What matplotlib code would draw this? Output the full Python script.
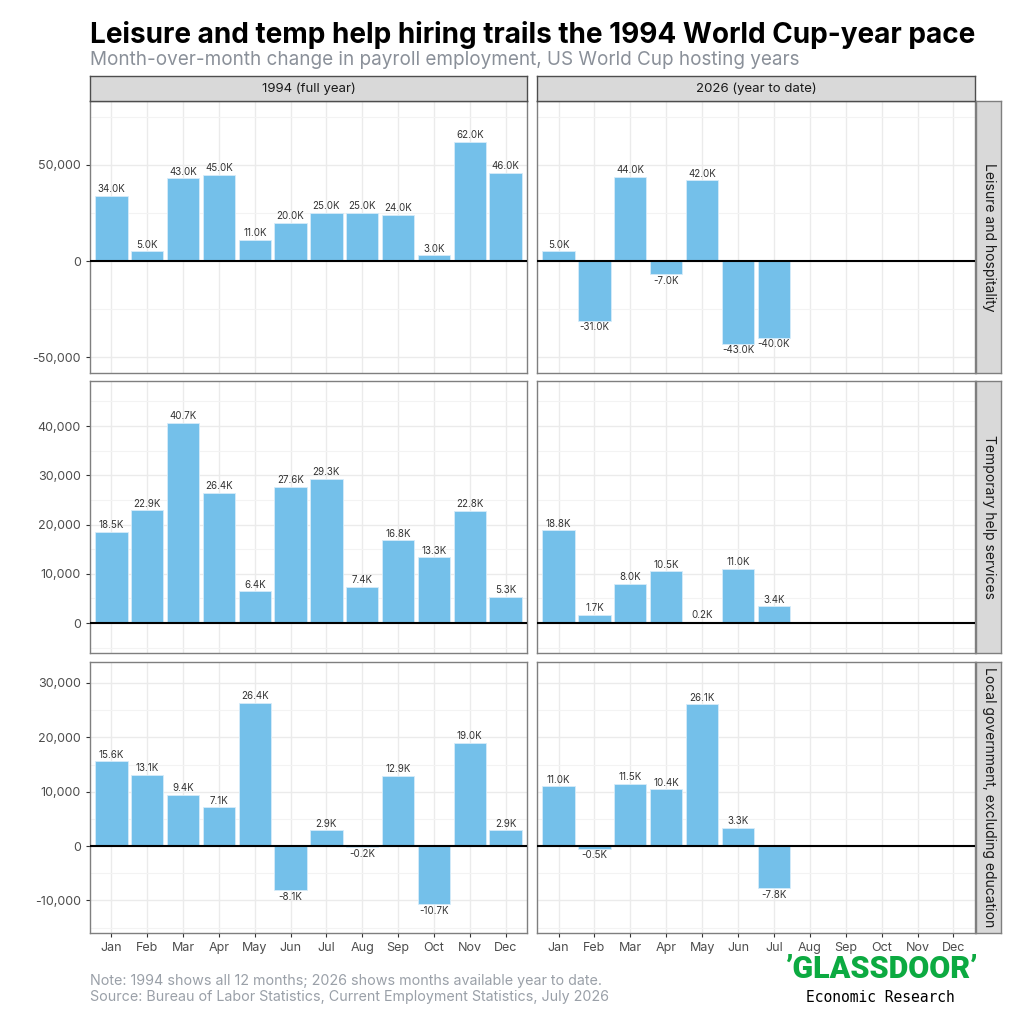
import matplotlib.pyplot as plt
from matplotlib.ticker import FuncFormatter, MultipleLocator
import numpy as np

plt.rcParams['font.family'] = ['Inter', 'DejaVu Sans']

months = ['Jan', 'Feb', 'Mar', 'Apr', 'May', 'Jun', 'Jul', 'Aug', 'Sep', 'Oct', 'Nov', 'Dec']
cols = ['1994 (full year)', '2026 (year to date)']
rows = ['Leisure and hospitality', 'Temporary help services',
        'Local government, excluding education']

# values in thousands of jobs
leisure_1994 = [34.0, 5.0, 43.0, 45.0, 11.0, 20.0, 25.0, 25.0, 24.0, 3.0, 62.0, 46.0]
leisure_2026 = [5.0, -31.0, 44.0, -7.0, 42.0, -43.0, -40.0]
temp_1994 = [18.5, 22.9, 40.7, 26.4, 6.4, 27.6, 29.3, 7.4, 16.8, 13.3, 22.8, 5.3]
temp_2026 = [18.8, 1.7, 8.0, 10.5, 0.2, 11.0, 3.4]
localgov_1994 = [15.6, 13.1, 9.4, 7.1, 26.4, -8.1, 2.9, -0.2, 12.9, -10.7, 19.0, 2.9]
localgov_2026 = [11.0, -0.5, 11.5, 10.4, 26.1, 3.3, -7.8]

data = [[leisure_1994, leisure_2026],
        [temp_1994, temp_2026],
        [localgov_1994, localgov_2026]]

ylims = [(-58333, 83333), (-6091, 49137), (-16012, 33865)]
ystep = [50000, 10000, 10000]

BAR = '#74c0ea'
GRID = '#ebebeb'
TXT = '#4d4d4d'

W = H = 1024
fig = plt.figure(figsize=(10.24, 10.24), dpi=100)

def px(x0, y0, x1, y1):
    return [x0 / W, 1 - y1 / H, (x1 - x0) / W, (y1 - y0) / H]

col_x = [(90, 527), (537, 975)]
row_y = [(101, 373), (381, 653), (662, 933)]

for r in range(3):
    for c in range(2):
        ax = fig.add_axes(px(col_x[c][0], row_y[r][0], col_x[c][1], row_y[r][1]))
        vals = np.array(data[r][c]) * 1000
        x = np.arange(1, len(vals) + 1)
        ax.bar(x, vals, width=0.9, color=BAR, edgecolor='#d6ecf9', linewidth=0.6, zorder=2)
        ax.axhline(0, color='black', lw=1.5, zorder=3)
        lo, hi = ylims[r]
        ax.set_xlim(0.4, 12.6)
        ax.set_ylim(lo, hi)
        off = (hi - lo) * 0.006
        for xi, v in zip(x, vals):
            lab = f'{v / 1000:.1f}K'
            if v >= 0:
                ax.text(xi, v + off, lab, ha='center', va='bottom', fontsize=7, color='#333333', zorder=4)
            else:
                ax.text(xi, v - off, lab, ha='center', va='top', fontsize=7, color='#333333', zorder=4)
        ax.set_xticks(range(1, 13))
        ax.yaxis.set_major_locator(MultipleLocator(ystep[r]))
        ax.yaxis.set_minor_locator(MultipleLocator(ystep[r] / 2))
        ax.yaxis.set_major_formatter(FuncFormatter(lambda v, p: f'{v:,.0f}'))
        ax.grid(True, which='major', color=GRID, lw=1.0, zorder=0)
        ax.grid(True, which='minor', axis='y', color='#f3f3f3', lw=0.8, zorder=0)
        ax.set_axisbelow(True)
        for s in ax.spines.values():
            s.set_color('#7f7f7f')
            s.set_linewidth(1.0)
        ax.tick_params(which='both', length=0)
        ax.tick_params(axis='both', which='major', length=3, color='#333333', labelsize=9, labelcolor=TXT)
        if r == 2:
            ax.set_xticklabels(months)
        else:
            ax.set_xticklabels([])
            ax.tick_params(axis='x', length=0)
        if c == 1:
            ax.set_yticklabels([])
            ax.tick_params(axis='y', length=0)

# column strips
for c in range(2):
    x0, x1 = col_x[c]
    sax = fig.add_axes(px(x0, 76, x1, 101))
    sax.set_xticks([]); sax.set_yticks([])
    sax.set_facecolor('#d9d9d9')
    for s in sax.spines.values():
        s.set_color('#4d4d4d'); s.set_linewidth(1.0)
    sax.text(0.5, 0.5, cols[c], ha='center', va='center', fontsize=9.5, color='#1a1a1a')

# row strips
for r in range(3):
    y0, y1 = row_y[r]
    sax = fig.add_axes(px(976, y0, 1001, y1))
    sax.set_xticks([]); sax.set_yticks([])
    sax.set_facecolor('#d9d9d9')
    for s in sax.spines.values():
        s.set_color('#7f7f7f'); s.set_linewidth(1.0)
    sax.text(0.5, 0.5, rows[r], ha='center', va='center', rotation=-90, fontsize=10, color='#1a1a1a')

fig.text(90 / W, 1 - 35 / H, 'Leisure and temp help hiring trails the 1994 World Cup-year pace',
         fontsize=20.1, fontweight='bold', color='black', va='center')
fig.text(90 / W, 1 - 60 / H, 'Month-over-month change in payroll employment, US World Cup hosting years',
         fontsize=13.6, color='#8a9099', va='center')
fig.text(90 / W, 1 - 981 / H, 'Note: 1994 shows all 12 months; 2026 shows months available year to date.',
         fontsize=10.3, color='#9aa0a8', va='center')
fig.text(90 / W, 1 - 997 / H, 'Source: Bureau of Labor Statistics, Current Employment Statistics, July 2026',
         fontsize=10.3, color='#9aa0a8', va='center')

fig.text(881 / W, 1 - 969 / H, '\u2019GLASSDOOR\u2019', fontsize=22, fontweight='heavy',
         color='#0caa41', ha='center', va='center', family=['Roboto', 'DejaVu Sans'])
fig.text(880 / W, 1 - 998 / H, 'Economic Research', fontsize=10.5, color='black',
         ha='center', va='center', family=['DejaVu Sans Mono'])

fig.savefig('out.png', dpi=100, facecolor='white')
